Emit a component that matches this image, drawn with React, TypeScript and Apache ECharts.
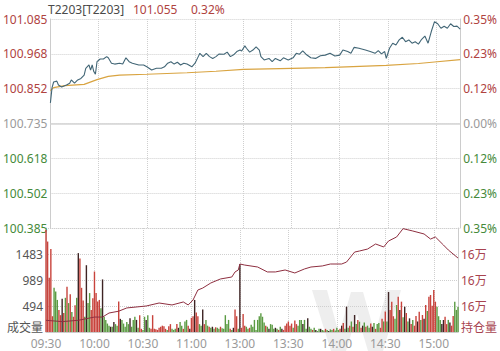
import React, { useEffect, useRef } from 'react';
import * as echarts from 'echarts';

const preSettle = 100.735;
const step = 0.35 / 3;
const timeLabels = ['09:30', '10:00', '10:30', '11:00', '13:00', '13:30', '14:00', '14:30', '15:00'];

const priceIdx = [0, 1, 2, 4, 5, 7, 10, 12, 13, 15, 17, 19, 21, 22, 24, 25, 26, 27, 28, 29, 31, 33, 35, 36, 38, 40, 43, 45, 47, 49, 51, 55, 58, 60, 63, 66, 69, 71, 73, 75, 77, 79, 81, 83, 85, 88, 90, 92, 93, 95, 97, 99, 101, 103, 105, 108, 110, 112, 114, 116, 118, 119, 121, 122, 124, 126, 128, 130, 131, 133, 136, 138, 140, 143, 145, 148, 151, 153, 155, 157, 159, 162, 165, 168, 171, 174, 177, 180, 182, 185, 187, 189, 192, 196, 199, 202, 204, 206, 208, 209, 211, 213, 215, 217, 219, 221, 223, 225, 227, 229, 231, 233, 235, 237, 239, 241, 243, 245, 247, 249, 251, 253, 255];
const priceVal = [100.804, 100.854, 100.874, 100.877, 100.864, 100.857, 100.864, 100.870, 100.881, 100.870, 100.881, 100.886, 100.897, 100.920, 100.931, 100.914, 100.931, 100.909, 100.900, 100.942, 100.951, 100.951, 100.959, 100.955, 100.937, 100.934, 100.937, 100.934, 100.955, 100.942, 100.937, 100.931, 100.931, 100.925, 100.914, 100.920, 100.920, 100.925, 100.937, 100.942, 100.934, 100.940, 100.931, 100.937, 100.934, 100.925, 100.937, 100.959, 100.970, 100.959, 100.970, 100.959, 100.953, 100.959, 100.968, 100.967, 100.974, 100.959, 100.965, 100.976, 100.981, 100.978, 100.995, 100.987, 100.974, 100.981, 100.992, 100.981, 100.959, 100.948, 100.953, 100.942, 100.953, 100.945, 100.955, 100.948, 100.955, 100.970, 100.967, 100.978, 100.967, 100.955, 100.953, 100.962, 100.964, 100.970, 100.961, 100.964, 100.981, 100.976, 100.970, 100.990, 100.987, 100.981, 100.976, 100.970, 100.979, 100.968, 100.976, 100.953, 100.987, 101.004, 100.998, 101.015, 101.024, 101.009, 101.015, 101.004, 101.009, 101.001, 101.017, 101.028, 101.004, 101.043, 101.076, 101.069, 101.054, 101.061, 101.054, 101.069, 101.060, 101.061, 101.051];

const avgIdx = [0, 2, 9, 21, 29, 36, 43, 60, 85, 103, 120, 143, 171, 180, 209, 229, 239, 255];
const avgVal = [100.845, 100.855, 100.862, 100.866, 100.882, 100.893, 100.897, 100.900, 100.905, 100.910, 100.916, 100.919, 100.922, 100.924, 100.930, 100.936, 100.941, 100.949];

const oiIdx = [0, 10, 20, 30, 35, 39, 45, 50, 62, 70, 78, 85, 88, 91, 94, 97, 102, 108, 115, 117, 119, 120, 123, 131, 137, 142, 148, 154, 160, 164, 171, 176, 183, 186, 191, 194, 199, 204, 209, 212, 217, 221, 227, 234, 238, 241, 246, 249, 255];
const oiVal = [158900, 158800, 158900, 159150, 159150, 159460, 159600, 159850, 160000, 160230, 160080, 160310, 160080, 160460, 161230, 161380, 161770, 162080, 162230, 162620, 162770, 163230, 163150, 163000, 162620, 162620, 162770, 162540, 162850, 163000, 163080, 163230, 163230, 163380, 164150, 164230, 164380, 164770, 164540, 165000, 165310, 165950, 165770, 165540, 165150, 165310, 164690, 164310, 163690];

const volume = [
  1940, 1720, 1030, 1580, 300, 840, 770, 610, 420, 320,
  630, 360, 650, 860, 550, 720, 380, 290, 510, 650,
  1500, 1400, 840, 600, 290, 1270, 550, 740, 420, 640,
  1150, 740, 580, 610, 450, 1000, 290, 230, 160, 120,
  100, 100, 190, 150, 120, 580, 250, 230, 160, 100,
  190, 150, 260, 100, 230, 290, 230, 80, 320, 60,
  40, 290, 230, 320, 80, 60, 320, 60, 50, 40,
  80, 100, 120, 110, 60, 40, 110, 150, 60, 40,
  60, 150, 80, 190, 120, 60, 200, 230, 120, 60,
  270, 300, 610, 370, 300, 150, 120, 430, 150, 230,
  120, 100, 80, 100, 60, 90, 80, 60, 100, 70,
  60, 320, 150, 230, 60, 40, 80, 430, 300, 60,
  1290, 80, 340, 120, 100, 60, 80, 140, 100, 230,
  40, 230, 300, 355, 290, 180, 120, 100, 60, 150,
  140, 60, 80, 60, 40, 100, 60, 40, 120, 160,
  200, 120, 160, 80, 220, 150, 120, 228, 230, 150,
  230, 60, 260, 100, 60, 40, 80, 40, 20, 60,
  60, 40, 30, 60, 40, 20, 50, 40, 60, 30,
  80, 40, 60, 120, 170, 60, 481, 80, 120, 200,
  100, 323, 150, 230, 196, 80, 120, 180, 100, 120,
  80, 160, 100, 170, 60, 150, 170, 80, 250, 200,
  390, 200, 760, 418, 577, 300, 250, 513, 672, 418,
  577, 280, 481, 360, 200, 260, 150, 230, 120, 304,
  200, 387, 230, 323, 250, 513, 400, 672, 704, 500,
  800, 577, 481, 300, 230, 150, 228, 291, 150, 230,
  180, 120, 304, 577, 420, 480,
];
const volColor =
  'rrrrrgggrr' + 'krgrgrgrrg' + 'krrrgkggrr' + 'rrrrgkgggg' + 'kgkggrkggg' +
  'ggkgggkgrr' + 'ggkggrrrrr' + 'rrrrrgrrgg' + 'grkggrggrk' + 'rrkrrggkrg' +
  'grgkgrggrg' + 'ggggrgkrrg' + 'krrrggrggg' + 'ggggggrgkg' + 'ggkgrgkrrr' +
  'rrrgrrgggk' + 'ggkggrgkgg' + 'kggrgkggrg' + 'ggrkrgkgrg' + 'rkgrgrkgrg' +
  'grkgrggrrg' + 'rgkrrrggrk' + 'rgkrgkrgrr' + 'krgrkrgrrr' + 'rrgggkkrrg' + 'krrggg';

const RED = '#b0433f';
const GREEN = '#458a3a';
const GRAY = '#9a9a9a';
const FONT = '"Noto Sans", "Noto Sans CJK SC", sans-serif';
const barColors: Record<string, string> = { r: '#c8433c', g: '#5b9b43', k: '#3e2424' };

export default function App() {
  const ref = useRef<HTMLDivElement>(null);
  useEffect(() => {
    if (!ref.current) return;
    const chart = echarts.init(ref.current, undefined, { renderer: 'svg' });
    const toY = (p: number) => (p - preSettle) / step;
    const dotted = { type: 'dotted' as const, color: '#cfcfcf', width: 1 };
    const signColor = (v: any) => {
      const n = Number(v);
      if (Math.abs(n) < 1e-6) return GRAY;
      return n > 0 ? RED : GREEN;
    };
    const option: any = {
      animation: false,
      textStyle: { fontFamily: FONT },
      graphic: [
        {
          type: 'polygon', z: -10, silent: true,
          shape: {
            points: [
              [312, 290], [327, 290], [339, 334], [351, 292], [363, 292], [375, 334], [387, 290], [401, 290],
              [383, 351], [368, 351], [357, 314], [346, 351], [331, 351],
            ],
          },
          style: { fill: 'rgba(200,200,200,0.3)' },
        },
        { type: 'text', x: 48, y: 9, style: { text: 'T2203[T2203]', font: '12px ' + FONT, fill: '#4a4a4a', verticalAlign: 'middle' } },
        { type: 'text', x: 133, y: 9, style: { text: '101.055', font: '12px ' + FONT, fill: RED, verticalAlign: 'middle' } },
        { type: 'text', x: 191, y: 9, style: { text: '0.32%', font: '12px ' + FONT, fill: RED, verticalAlign: 'middle' } },
      ],
      grid: [
        { left: 46, right: 37, top: 19, height: 209 },
        { left: 46, right: 37, top: 228, height: 104 },
      ],
      xAxis: [
        {
          type: 'value', gridIndex: 0, min: 0, max: 255, interval: 30,
          axisLabel: { show: false }, axisLine: { show: false }, axisTick: { show: false },
          splitLine: { show: true, lineStyle: dotted },
        },
        {
          type: 'value', gridIndex: 1, min: 0, max: 255, interval: 30,
          axisLabel: {
            color: GRAY, fontSize: 12, margin: 5,
            formatter: (v: number) => (v % 30 === 0 && v / 30 < timeLabels.length ? timeLabels[v / 30] : ''),
          },
          axisLine: { show: true, lineStyle: { color: '#cccccc' } }, axisTick: { show: false },
          splitLine: { show: true, lineStyle: dotted },
        },
      ],
      yAxis: [
        {
          type: 'value', gridIndex: 0, min: -3, max: 3, interval: 1, position: 'left',
          axisLine: { show: true, lineStyle: { color: '#cccccc' } }, axisTick: { show: false },
          splitLine: { show: true, lineStyle: dotted },
          axisLabel: { fontSize: 12, margin: 3, color: signColor, formatter: (v: number) => (preSettle + v * step).toFixed(3) },
        },
        {
          type: 'value', gridIndex: 0, min: -3, max: 3, interval: 1, position: 'right',
          axisLine: { show: true, lineStyle: { color: '#cccccc' } }, axisTick: { show: false },
          splitLine: { show: false },
          axisLabel: { fontSize: 12, margin: 3, color: signColor, formatter: (v: number) => Math.abs((v * step) / preSettle * 100).toFixed(2) + '%' },
        },
        {
          type: 'value', gridIndex: 1, min: 0, max: 1977.6, interval: 494.4, position: 'left',
          axisLine: { show: true, lineStyle: { color: '#cccccc' } }, axisTick: { show: false },
          splitLine: { show: true, lineStyle: dotted },
          axisLabel: {
            fontSize: 12, margin: 3, color: '#555555',
            formatter: (v: number) => (v < 1 ? '{b|成交量}' : v > 1900 ? '' : String(Math.round(v))),
            rich: { b: { fontSize: 12, color: '#555555', padding: [0, 0, 10, 0] } },
          },
        },
        {
          type: 'value', gridIndex: 1, min: 158000, max: 166000, interval: 2000, position: 'right',
          axisLine: { show: true, lineStyle: { color: '#cccccc' } }, axisTick: { show: false },
          splitLine: { show: false },
          axisLabel: {
            fontSize: 12, margin: 3, color: '#a8434f',
            formatter: (v: number) => (v <= 158000 ? '{b|持仓量}' : v >= 166000 ? '' : Math.round(v / 10000) + '万'),
            rich: { b: { fontSize: 12, color: '#a8434f', padding: [0, 0, 10, 0] } },
          },
        },
      ],
      series: [
        {
          type: 'line', xAxisIndex: 0, yAxisIndex: 0, symbol: 'none', z: 3,
          lineStyle: { color: '#d9a441', width: 1.2 },
          data: avgIdx.map((x, i) => [x, toY(avgVal[i])]),
        },
        {
          type: 'line', xAxisIndex: 0, yAxisIndex: 0, symbol: 'none', z: 4,
          lineStyle: { color: '#426676', width: 1.1 },
          data: priceIdx.map((x, i) => [x, toY(priceVal[i])]),
          markLine: {
            silent: true, symbol: 'none', label: { show: false },
            lineStyle: { type: 'solid', color: '#d4d4d4', width: 1.5 },
            data: [{ yAxis: 0 }],
          },
        },
        {
          type: 'bar', xAxisIndex: 1, yAxisIndex: 2, barWidth: 1.4, z: 2,
          data: volume.map((v, i) => ({ value: [i, v], itemStyle: { color: barColors[volColor[i]] } })),
        },
        {
          type: 'line', xAxisIndex: 1, yAxisIndex: 3, symbol: 'none', z: 4,
          lineStyle: { color: '#8e2f40', width: 1 },
          data: oiIdx.map((x, i) => [x, oiVal[i]]),
        },
      ],
    };
    chart.setOption(option);
    return () => chart.dispose();
  }, []);
  return <div ref={ref} style={{ position: 'fixed', left: 0, top: 0, width: 500, height: 351, background: '#fff' }} />;
}
